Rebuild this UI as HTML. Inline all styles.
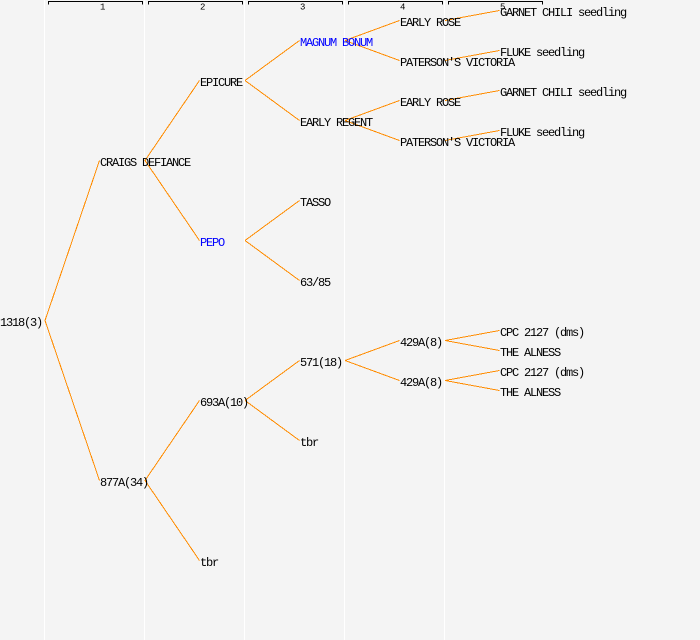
<!DOCTYPE html>
<html>
<head>
<meta charset="utf-8">
<style>
html,body{margin:0;padding:0;background:#f4f4f4;}
svg{display:block;}
text{font-family:"Liberation Mono","DejaVu Sans Mono",monospace;font-size:12px;letter-spacing:-1.2px;fill:#000;}
text.b{fill:#0000ff;}
text.h{font-size:9px;letter-spacing:0;}
</style>
</head>
<body>
<svg width="700" height="640" viewBox="0 0 700 640" xmlns="http://www.w3.org/2000/svg">
<rect x="0" y="0" width="700" height="640" fill="#f4f4f4"/>
<!-- column separators -->
<g stroke="#ffffff" stroke-width="1">
<line x1="44.5" y1="0" x2="44.5" y2="640"/>
<line x1="144.5" y1="0" x2="144.5" y2="640"/>
<line x1="244.5" y1="0" x2="244.5" y2="640"/>
<line x1="344.5" y1="0" x2="344.5" y2="640"/>
<line x1="444.5" y1="0" x2="444.5" y2="640"/>
</g>
<!-- header brackets -->
<g stroke="#000" stroke-width="1" fill="none">
<path d="M48.5 4.5 V1.5 H142.5 V4.5"/>
<path d="M148.5 4.5 V1.5 H242.5 V4.5"/>
<path d="M248.5 4.5 V1.5 H342.5 V4.5"/>
<path d="M348.5 4.5 V1.5 H442.5 V4.5"/>
<path d="M448.5 4.5 V1.5 H542.5 V4.5"/>
</g>
<text class="h" x="100" y="9.5">1</text>
<text class="h" x="200" y="9.5">2</text>
<text class="h" x="300" y="9.5">3</text>
<text class="h" x="400" y="9.5">4</text>
<text class="h" x="500" y="9.5">5</text>
<!-- connectors -->
<g stroke="#ff8c00" stroke-width="1" fill="none" shape-rendering="crispEdges">
<line x1="45" y1="320.5" x2="99.5" y2="160.5"/>
<line x1="45" y1="320.5" x2="99.5" y2="480.5"/>
<line x1="145" y1="160.5" x2="199.5" y2="80.5"/>
<line x1="145" y1="160.5" x2="199.5" y2="240.5"/>
<line x1="145" y1="480.5" x2="199.5" y2="400.5"/>
<line x1="145" y1="480.5" x2="199.5" y2="560.5"/>
<line x1="245" y1="80.5" x2="299.5" y2="40.5"/>
<line x1="245" y1="80.5" x2="299.5" y2="120.5"/>
<line x1="245" y1="240.5" x2="299.5" y2="200.5"/>
<line x1="245" y1="240.5" x2="299.5" y2="280.5"/>
<line x1="245" y1="400.5" x2="299.5" y2="360.5"/>
<line x1="245" y1="400.5" x2="299.5" y2="440.5"/>
<line x1="345" y1="40.5" x2="399.5" y2="20.5"/>
<line x1="345" y1="40.5" x2="399.5" y2="60.5"/>
<line x1="345" y1="120.5" x2="399.5" y2="100.5"/>
<line x1="345" y1="120.5" x2="399.5" y2="140.5"/>
<line x1="345" y1="360.5" x2="399.5" y2="340.5"/>
<line x1="345" y1="360.5" x2="399.5" y2="380.5"/>
<line x1="445" y1="20.5" x2="499.5" y2="10.5"/>
<line x1="445" y1="60.5" x2="499.5" y2="50.5"/>
<line x1="445" y1="100.5" x2="499.5" y2="90.5"/>
<line x1="445" y1="140.5" x2="499.5" y2="130.5"/>
<line x1="445" y1="340.5" x2="499.5" y2="330.5"/>
<line x1="445" y1="340.5" x2="499.5" y2="350.5"/>
<line x1="445" y1="380.5" x2="499.5" y2="370.5"/>
<line x1="445" y1="380.5" x2="499.5" y2="390.5"/>
</g>
<!-- labels -->
<text x="0" y="326">1318(3)</text>
<text x="100" y="166">CRAIGS DEFIANCE</text>
<text x="100" y="486">877A(34)</text>
<text x="200" y="86">EPICURE</text>
<text class="b" x="200" y="246">PEPO</text>
<text x="200" y="406">693A(10)</text>
<text x="200" y="566">tbr</text>
<text class="b" x="300" y="46">MAGNUM BONUM</text>
<text x="300" y="126">EARLY REGENT</text>
<text x="300" y="206">TASSO</text>
<text x="300" y="286">63/85</text>
<text x="300" y="366">571(18)</text>
<text x="300" y="446">tbr</text>
<text x="400" y="26">EARLY ROSE</text>
<text x="400" y="66">PATERSON'S VICTORIA</text>
<text x="400" y="106">EARLY ROSE</text>
<text x="400" y="146">PATERSON'S VICTORIA</text>
<text x="400" y="346">429A(8)</text>
<text x="400" y="386">429A(8)</text>
<text x="500" y="16">GARNET CHILI seedling</text>
<text x="500" y="56">FLUKE seedling</text>
<text x="500" y="96">GARNET CHILI seedling</text>
<text x="500" y="136">FLUKE seedling</text>
<text x="500" y="336">CPC 2127 (dms)</text>
<text x="500" y="356">THE ALNESS</text>
<text x="500" y="376">CPC 2127 (dms)</text>
<text x="500" y="396">THE ALNESS</text>
</svg>
</body>
</html>
